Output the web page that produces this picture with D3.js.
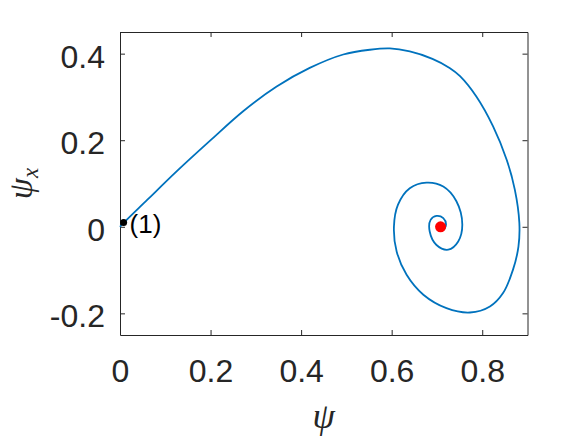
<!DOCTYPE html>
<html>
<head>
<meta charset="utf-8">
<script src="https://cdn.jsdelivr.net/npm/d3@7"></script>
<style>
  body { margin: 0; background: #fff; }
  .axis path, .axis line { stroke: #262626; stroke-width: 1; }
  .axis text { font-family: "Liberation Sans", Arial, sans-serif; font-size: 32px; fill: #262626; }
</style>
</head>
<body>
<div id="chart"></div>
<script>
// trajectory: psi (x) and psi_x (y)
var psi = [0, 0.008, 0.060, 0.125, 0.199, 0.272, 0.346, 0.419, 0.493, 0.552, 0.596, 0.640, 0.690, 0.728,
    0.751, 0.787, 0.824, 0.854, 0.872, 0.882, 0.880, 0.868, 0.846, 0.817, 0.773, 0.721, 0.670, 0.633,
    0.611, 0.605, 0.614, 0.640, 0.677, 0.714, 0.743, 0.756, 0.747, 0.725, 0.699, 0.684, 0.686, 0.699,
    0.714, 0.720, 0.714, 0.708];
var psiX = [0, 0.009, 0.062, 0.128, 0.199, 0.267, 0.324, 0.367, 0.398, 0.409, 0.412, 0.405, 0.388, 0.367,
    0.348, 0.301, 0.232, 0.155, 0.086, 0.009, -0.046, -0.099, -0.153, -0.184, -0.198, -0.188, -0.157, -0.111,
    -0.057, 0.000, 0.051, 0.089, 0.102, 0.093, 0.059, 0.005, -0.034, -0.053, -0.042, -0.011, 0.016, 0.025,
    0.020, 0.005, -0.007, 0];

var xTicks = [0, 0.2, 0.4, 0.6, 0.8];
var yTicks = [-0.2, 0, 0.2, 0.4];
var startPoint = [0.008, 0.010];   // point (1)
var fixedPoint = [0.708, 0];       // red equilibrium

var width = 584, height = 438;
var margin = { top: 32, right: 56.5, bottom: 103, left: 120 };

var x = d3.scaleLinear().domain([0, 0.9]).range([margin.left, width - margin.right]);
var y = d3.scaleLinear().domain([-0.25, 0.45]).range([height - margin.bottom, margin.top]);

// matlab style labels: plain hyphen, "0" without decimals
var fmt = function (d) { return d === 0 ? "0" : d.toFixed(1); };

var svg = d3.select("#chart").append("svg")
    .attr("width", width)
    .attr("height", height);

// axes, ticks pointing inward on all four sides
svg.append("g")
    .attr("class", "axis x")
    .attr("transform", "translate(0," + y.range()[0] + ")")
    .call(d3.axisBottom(x).tickValues(xTicks).tickSize(-5).tickSizeOuter(0).tickPadding(24).tickFormat(fmt));

svg.append("g")
    .attr("class", "axis y")
    .attr("transform", "translate(" + x.range()[0] + ",0)")
    .call(d3.axisLeft(y).tickValues(yTicks).tickSize(-5).tickSizeOuter(0).tickPadding(15).tickFormat(fmt))
    .selectAll("text").attr("dy", "0.42em");

svg.append("g")
    .attr("class", "axis")
    .attr("transform", "translate(0," + y.range()[1] + ")")
    .call(d3.axisTop(x).tickValues(xTicks).tickSize(-5).tickSizeOuter(0).tickFormat(""));

svg.append("g")
    .attr("class", "axis")
    .attr("transform", "translate(" + x.range()[1] + ",0)")
    .call(d3.axisRight(y).tickValues(yTicks).tickSize(-5).tickSizeOuter(0).tickFormat(""));

// trajectory
var pts = psi.map(function (d, i) { return [d, psiX[i]]; });
var line = d3.line()
    .x(function (d) { return x(d[0]); })
    .y(function (d) { return y(d[1]); })
    .curve(d3.curveCatmullRom.alpha(0.5));

svg.append("path")
    .datum(pts)
    .attr("d", line)
    .attr("fill", "none")
    .attr("stroke", "#0072BD")
    .attr("stroke-width", 1.8);

svg.append("circle")
    .attr("cx", x(fixedPoint[0]))
    .attr("cy", y(fixedPoint[1]))
    .attr("r", 5.5)
    .attr("fill", "#ff0000");

svg.append("circle")
    .attr("cx", x(startPoint[0]))
    .attr("cy", y(startPoint[1]))
    .attr("r", 3.5)
    .attr("fill", "#000");

svg.append("text")
    .attr("x", x(startPoint[0]) + 6)
    .attr("y", y(startPoint[1]) + 11)
    .style("font-family", "Liberation Sans, Arial, sans-serif")
    .style("font-size", "26px")
    .attr("fill", "#000")
    .text("(1)");

// axis labels
svg.append("text")
    .attr("x", (x.range()[0] + x.range()[1]) / 2)
    .attr("y", 428)
    .attr("text-anchor", "middle")
    .style("font-family", "Liberation Serif, serif")
    .style("font-style", "italic")
    .style("font-size", "36px")
    .attr("fill", "#262626")
    .text("ψ");

var yl = svg.append("text")
    .attr("transform", "translate(32," + (y.range()[0] + y.range()[1]) / 2 + ") rotate(-90)")
    .attr("text-anchor", "middle")
    .style("font-family", "Liberation Serif, serif")
    .style("font-style", "italic")
    .style("font-size", "34px")
    .attr("fill", "#262626");
yl.append("tspan").text("ψ");
yl.append("tspan").attr("dy", 6).style("font-size", "23px").text("x");
</script>
</body>
</html>
